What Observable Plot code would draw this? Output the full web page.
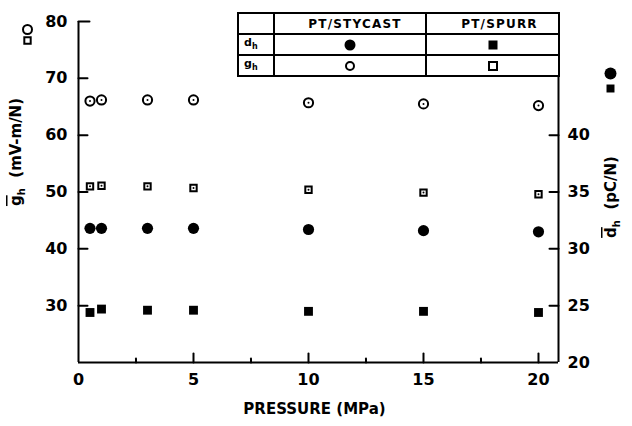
<!DOCTYPE html>
<html><head><meta charset="utf-8">
<script src="https://cdn.jsdelivr.net/npm/d3@7"></script>
<script src="https://cdn.jsdelivr.net/npm/@observablehq/plot@0.6"></script>
<style>
body{margin:0;background:#fff;}
#wrap{position:relative;width:632px;height:426px;font-family:"DejaVu Sans",sans-serif;font-weight:bold;color:#000;}
#legend{position:absolute;left:237px;top:12px;border-collapse:collapse;background:#fff;}
#legend td{border:2px solid #000;height:19px;padding:0;font-size:12px;text-align:center;vertical-align:middle;line-height:1;}
#legend td.lab{text-align:left;padding-left:5px;font-size:11px;}
#legend td.hd{letter-spacing:1.2px;}
#legend svg{display:block;margin:auto;}
</style></head><body><div id="wrap"></div>
<script>
// ---- data ----
const pressure = [0.5, 1, 3, 5, 10, 15, 20];           // MPa
const gStycast = [66.0, 66.2, 66.2, 66.2, 65.7, 65.5, 65.2]; // g_h mV-m/N (open circles)
const gSpurr   = [51.0, 51.1, 51.0, 50.7, 50.4, 49.9, 49.6]; // g_h mV-m/N (open squares)
const dStycast = [31.8, 31.8, 31.8, 31.8, 31.7, 31.6, 31.5]; // d_h pC/N (filled circles)
const dSpurr   = [24.4, 24.7, 24.6, 24.6, 24.5, 24.5, 24.4]; // d_h pC/N (filled squares)
const leftTicks = [30, 40, 50, 60, 70, 80];
const rightTicks = [20, 25, 30, 35, 40];
const xTicks = [0, 5, 10, 15, 20];
const xMinorTicks = [2.5, 7.5, 12.5, 17.5];
const seriesNames = ["PT/STYCAST", "PT/SPURR"];
const rowNames = ["d", "g"];

// ---- scales / axis extents ----
const xMax = 20.87, gMin = 20, gMax = 80, dTop = 45.6;
const gFromD = d => 2 * (d - 10); // right axis: d_h = g/2 + 10

const rows = pressure.map((p, i) => ({p, gS: gStycast[i], gP: gSpurr[i], dS: gFromD(dStycast[i]), dP: gFromD(dSpurr[i])}));
const line = {draw(ctx, l) { ctx.moveTo(0, 0); ctx.lineTo(0, -l); }};

const plot = Plot.plot({
  width: 632, height: 426,
  marginLeft: 78, marginRight: 74, marginTop: 21, marginBottom: 64,
  x: {domain: [0, xMax], axis: null},
  y: {domain: [gMin, gMax], axis: null},
  style: {fontFamily: "DejaVu Sans", fontWeight: "bold", fontSize: "15px", color: "#000", background: "#fff", overflow: "visible"},
  marks: [
    Plot.ruleX([0], {y1: gMin, y2: gMax, strokeWidth: 2}),
    Plot.ruleY([gMin], {x1: 0, x2: xMax, strokeWidth: 2}),
    Plot.ruleX([xMax], {y1: gMin, y2: gFromD(dTop), strokeWidth: 2}),
    Plot.vector(leftTicks.slice(0, -1), {x: 0, y: d => d, length: 9, rotate: 90, anchor: "start", shape: line, strokeWidth: 2}),
    Plot.vector([gMax], {x: 0, y: d => d, length: 11, rotate: 90, anchor: "start", shape: line, strokeWidth: 2}),
    Plot.vector(rightTicks.slice(1), {x: xMax, y: d => gFromD(d), length: 9, rotate: -90, anchor: "start", shape: line, strokeWidth: 2}),
    Plot.vector(xTicks.slice(1), {x: d => d, y: gMin, length: 9, anchor: "start", shape: line, strokeWidth: 2}),
    Plot.vector(xMinorTicks, {x: d => d, y: gMin, length: 4, anchor: "start", shape: line, strokeWidth: 2}),
    Plot.text(leftTicks, {x: 0, y: d => d, text: d => String(d), textAnchor: "end", dx: -11, fontSize: 16}),
    Plot.text(rightTicks, {x: xMax, y: d => gFromD(d), text: d => String(d), textAnchor: "start", dx: 9, fontSize: 16}),
    Plot.text(xTicks, {x: d => d, y: gMin, text: d => String(d), lineAnchor: "top", dy: 11, fontSize: 16}),
    Plot.text(["PRESSURE (MPa)"], {frameAnchor: "bottom", text: d => d, lineAnchor: "top", dy: 41, dx: -4, fontSize: 15}),
    // data
    Plot.dot(rows, {x: "p", y: "gS", symbol: "circle", r: 4.6, stroke: "#000", strokeWidth: 2, fill: "#fff"}),
    Plot.dot(rows, {x: "p", y: "gP", symbol: "square", r: 3.6, stroke: "#000", strokeWidth: 2, fill: "#fff"}),
    Plot.dot(rows, {x: "p", y: "gS", r: 1, fill: "#000"}),
    Plot.dot(rows, {x: "p", y: "gP", r: 1, fill: "#000"}),
    Plot.dot(rows, {x: "p", y: "dS", symbol: "circle", r: 5.6, fill: "#000"}),
    Plot.dot(rows, {x: "p", y: "dP", symbol: "square", r: 5, fill: "#000"}),
    // axis key symbols (open = left axis, filled = right axis)
    Plot.dot([0], {frameAnchor: "top-left", dx: -51, dy: 8, symbol: "circle", r: 4.5, stroke: "#000", strokeWidth: 2, fill: "#fff"}),
    Plot.dot([0], {frameAnchor: "top-left", dx: -51, dy: 19, symbol: "square", r: 3.6, stroke: "#000", strokeWidth: 2, fill: "#fff"}),
    Plot.dot([0], {frameAnchor: "top-right", dx: 52, dy: 52, symbol: "circle", r: 6, fill: "#000"}),
    Plot.dot([0], {frameAnchor: "top-right", dx: 52, dy: 67, symbol: "square", r: 4.5, fill: "#000"})
  ]
});

const wrap = document.getElementById("wrap");
wrap.appendChild(plot);

// rotated axis titles with overbar + subscript
const svg = d3.select(plot);
function yTitle(x, y, letter, unit) {
  const t = svg.append("text").attr("transform", `translate(${x},${y}) rotate(-90)`)
    .attr("text-anchor", "middle").attr("font-size", 15).attr("font-weight", "bold")
    .attr("font-family", "DejaVu Sans").attr("fill", "#000");
  t.append("tspan").attr("text-decoration", "overline").text(letter);
  t.append("tspan").attr("font-size", 10).attr("dy", 4).text("h");
  t.append("tspan").attr("dy", -4).text("\u00a0 " + unit);
}
yTitle(21, 152, "g", "(mV-m/N)");
yTitle(616, 197, "d", "(pC/N)");

// legend table
const sym = (filled, shape) => {
  const s = shape === "circle"
    ? (filled ? `<circle cx="7" cy="7" r="5.5" fill="#000"/>` : `<circle cx="7" cy="7" r="4" fill="#fff" stroke="#000" stroke-width="2"/>`)
    : (filled ? `<rect x="2.5" y="2.5" width="9" height="9" fill="#000"/>` : `<rect x="3" y="3" width="8" height="8" fill="#fff" stroke="#000" stroke-width="2"/>`);
  return `<svg width="14" height="14">${s}</svg>`;
};
const shapes = ["circle", "square"];
let html = `<tr><td style="width:34px"></td>` + seriesNames.map((n, i) => `<td class="hd" style="width:${i ? 117 : 140}px;padding-left:${i ? 14 : 10}px">${n}</td>`).join("") + `</tr>`;
rowNames.forEach(r => {
  html += `<tr><td class="lab">${r}<sub style="font-size:8px">h</sub></td>` +
    shapes.map(s => `<td>${sym(r === "d", s)}</td>`).join("") + `</tr>`;
});
const tbl = document.createElement("table");
tbl.id = "legend";
tbl.innerHTML = html;
wrap.appendChild(tbl);
</script></body></html>
